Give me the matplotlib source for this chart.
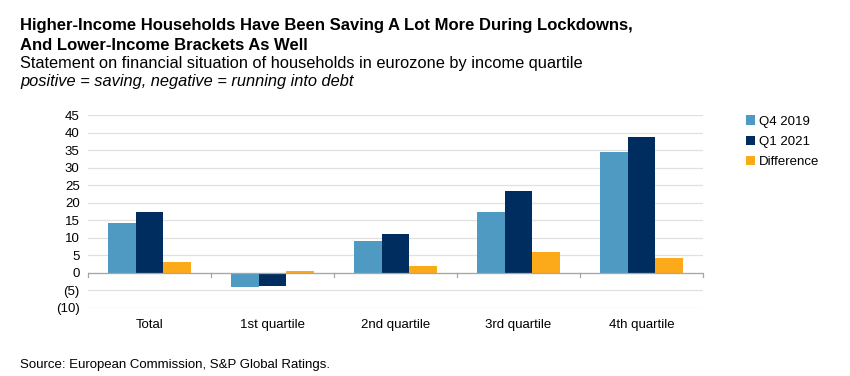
import numpy as np
import matplotlib.pyplot as plt

plt.rcParams['font.family'] = ['Liberation Sans', 'DejaVu Sans']

# Data
categories = ['Total', '1st quartile', '2nd quartile', '3rd quartile', '4th quartile']
q4_2019 = [14.3, -4.1, 9.2, 17.4, 34.4]
q1_2021 = [17.3, -3.8, 11.2, 23.4, 38.7]
difference = [3.2, 0.5, 2.1, 6.0, 4.3]
series_names = ['Q4 2019', 'Q1 2021', 'Difference']
yticks = [-10, -5, 0, 5, 10, 15, 20, 25, 30, 35, 40, 45]

colors = ['#4F9AC3', '#002D5F', '#FDAA1A']

fig = plt.figure(figsize=(8.5, 3.76), dpi=100)
ax = fig.add_axes([0.1035, 0.181, 0.7235, 0.513])

x = np.arange(len(categories))
w = 0.225
for i, (vals, name) in enumerate(zip([q4_2019, q1_2021, difference], series_names)):
    ax.bar(x + (i - 1) * w, vals, width=w, color=colors[i], label=name, zorder=3)

ax.set_xlim(-0.5, len(categories) - 0.5)
ax.set_ylim(-10, 45)
ax.set_yticks(yticks)
ax.set_yticklabels([f'({abs(v)})' if v < 0 else str(v) for v in yticks])
ax.grid(axis='y', color='#E0E0E0', linewidth=0.9, zorder=0)
ax.tick_params(axis='y', length=0, labelsize=9.5, pad=6)

for s in ['top', 'right', 'left', 'bottom']:
    ax.spines[s].set_visible(False)

# x axis line at zero with separators between categories
ax.axhline(0, color='#A6A6A6', linewidth=0.9, zorder=4)
ax.set_xticks(x)
ax.set_xticklabels(categories)
ax.tick_params(axis='x', length=0, labelsize=9.5, pad=8)
for b in np.arange(-0.5, len(categories), 1.0):
    ax.plot([b, b], [0, -1.2], color='#A6A6A6', linewidth=0.9, zorder=4, clip_on=False)

ax.legend(loc='upper left', bbox_to_anchor=(1.05, 1.06), frameon=False,
          fontsize=9.5, handlelength=0.7, handleheight=0.7, handletextpad=0.3,
          labelspacing=0.62)

# titles
fig.text(0.0235, 0.931, 'Higher-Income Households Have Been Saving A Lot More During Lockdowns,',
         fontsize=12, fontweight='bold', va='center')
fig.text(0.0235, 0.880, 'And Lower-Income Brackets As Well', fontsize=12, fontweight='bold',
         va='center')
fig.text(0.0235, 0.830, 'Statement on financial situation of households in eurozone by income quartile',
         fontsize=11.8, va='center')
fig.text(0.0235, 0.783, 'positive = saving, negative = running into debt', fontsize=11.8,
         style='italic', va='center')
fig.text(0.023, 0.029, 'Source: European Commission, S&P Global Ratings.', fontsize=9.5,
         va='center')

fig.savefig('out.png', dpi=100)
